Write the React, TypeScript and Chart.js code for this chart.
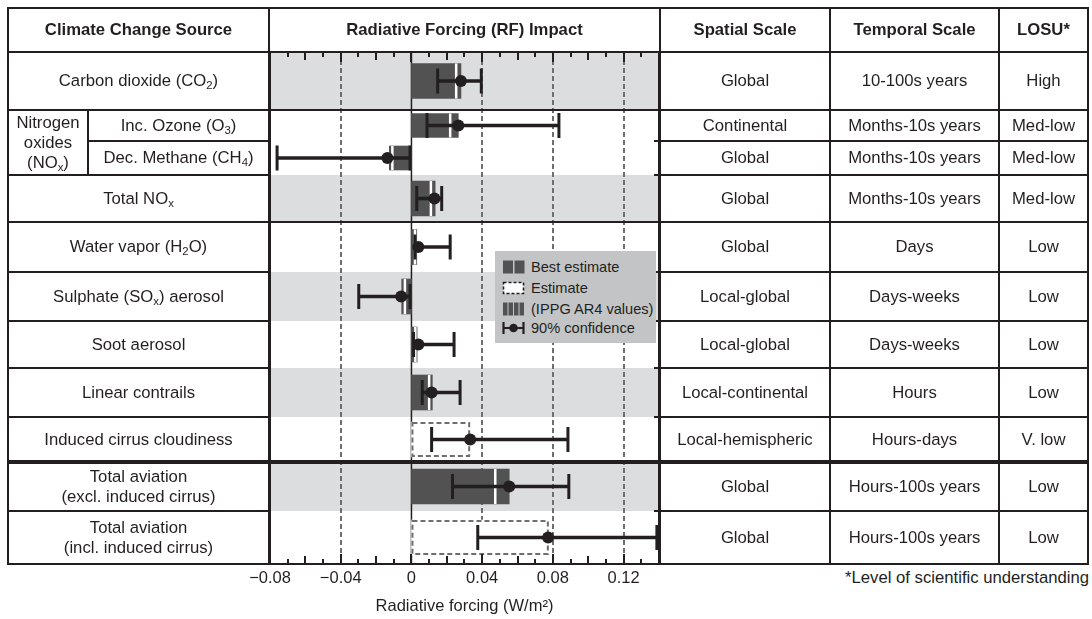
import React, { useEffect, useRef } from 'react';
import { Chart, registerables } from 'chart.js';

Chart.register(...registerables);

// ---------------- data ----------------
const columnHeaders = ['Climate Change Source', 'Radiative Forcing (RF) Impact', 'Spatial Scale', 'Temporal Scale', 'LOSU*'];
const sources = [
  'Carbon dioxide (CO{2})',
  'Inc. Ozone (O{3})',
  'Dec. Methane (CH{4})',
  'Total NO{x}',
  'Water vapor (H{2}O)',
  'Sulphate (SO{x}) aerosol',
  'Soot aerosol',
  'Linear contrails',
  'Induced cirrus cloudiness',
  'Total aviation\n(excl. induced cirrus)',
  'Total aviation\n(incl. induced cirrus)',
];
const groupLabel = 'Nitrogen\noxides\n(NO{x})';
const spatialScale = ['Global', 'Continental', 'Global', 'Global', 'Global', 'Local-global', 'Local-global', 'Local-continental', 'Local-hemispheric', 'Global', 'Global'];
const temporalScale = ['10-100s years', 'Months-10s years', 'Months-10s years', 'Months-10s years', 'Days', 'Days-weeks', 'Days-weeks', 'Hours', 'Hours-days', 'Hours-100s years', 'Hours-100s years'];
const losu = ['High', 'Med-low', 'Med-low', 'Med-low', 'Low', 'Low', 'Low', 'Low', 'V. low', 'Low', 'Low'];

// W/m2
const bestEstimate: (number | null)[] = [0.028, 0.0265, -0.0125, 0.0134, 0.003, -0.0055, 0.0032, 0.0118, null, 0.0553, null];
const estimate: (number | null)[] = [null, null, null, null, null, null, null, null, 0.0332, null, 0.0777];
const ar4Values: (number | null)[] = [0.0253, 0.0219, -0.0108, 0.011, 0.002, -0.0037, 0.0022, 0.01, null, 0.0474, null];
const centralValues = [0.028, 0.0265, -0.0136, 0.013, 0.0039, -0.0058, 0.0039, 0.0114, 0.0332, 0.0553, 0.0773];
const ciLow = [0.0148, 0.0088, -0.076, 0.003, 0.002, -0.0298, 0.0012, 0.0061, 0.0114, 0.0232, 0.0375];
const ciHigh = [0.0395, 0.0834, -0.0008, 0.0171, 0.0219, -0.0008, 0.0241, 0.0275, 0.0885, 0.089, 0.1388];
const xTicks = [-0.08, -0.04, 0, 0.04, 0.08, 0.12];
const legendLabels = ['Best estimate', 'Estimate', '(IPPG AR4 values)', '90% confidence'];
const axisTitle = 'Radiative forcing (W/m²)';
const footnote = '*Level of scientific understanding';

// ---------------- layout & style ----------------
const X_MIN = -0.08;
const X_MAX = 0.14;
const rowHeights = [58, 31, 34, 47, 50, 49, 47, 49, 45, 49, 53];
const shadedRows = [true, false, false, true, false, true, false, true, false, true, false];
const nestedRows = [false, true, true, false, false, false, false, false, false, false, false];
const fullRuleAfter = [0, 3, 8];
const thickRuleAfter = 8;
const colEdges = [8, 269, 660, 830, 999, 1088];
const GROUP_SPLIT = 88;
const TABLE_TOP = 8;
const BODY_TOP = 52;
const rowEdges = rowHeights.reduce<number[]>((acc, h) => { acc.push(acc[acc.length - 1] + h); return acc; }, [0]);
const BODY_H = rowEdges[rowEdges.length - 1];

const CANVAS_LEFT = 230;
const CANVAS_TOP = 40;
const CANVAS_W = 460;
const CANVAS_H = 579;

const INK = '#231f20';
const BAR = '#525252';
const BAND = '#dcdddf';
const GRID = '#6e6e6e';
const LEGEND_BG = '#c3c4c6';
const FONT = '"Liberation Sans", Arial, Helvetica, sans-serif';
const MAIN_BAR = 35;
const NESTED_BAR = 24;

function rich(text: string) {
  return text.split(/(\{[^}]*\})/).map((part, i) =>
    part.startsWith('{') ? (
      <sub key={i} style={{ fontSize: '0.68em', verticalAlign: 'baseline', position: 'relative', top: '0.3em', lineHeight: 0 }}>
        {part.slice(1, -1)}
      </sub>
    ) : (
      <React.Fragment key={i}>{part}</React.Fragment>
    )
  );
}

const decorPlugin = {
  id: 'rfDecor',
  beforeDatasetsDraw(chart: any) {
    const { ctx, chartArea: a } = chart;
    const xs = chart.scales.x;
    const ys = chart.scales.y;
    ctx.save();
    ctx.fillStyle = BAND;
    rowHeights.forEach((_, i) => {
      if (!shadedRows[i]) return;
      const t = ys.getPixelForValue(rowEdges[i]);
      const b = ys.getPixelForValue(rowEdges[i + 1]);
      ctx.fillRect(a.left, t, a.right - a.left, b - t);
    });
    ctx.strokeStyle = GRID;
    ctx.lineWidth = 2;
    ctx.setLineDash([5, 3]);
    xTicks.forEach((v) => {
      if (v === 0 || v === X_MIN) return;
      const px = Math.round(xs.getPixelForValue(v));
      ctx.beginPath();
      ctx.moveTo(px, a.top);
      ctx.lineTo(px, a.bottom);
      ctx.stroke();
    });
    ctx.setLineDash([]);
    ctx.strokeStyle = INK;
    ctx.lineWidth = 1.5;
    const z = xs.getPixelForValue(0);
    ctx.beginPath();
    ctx.moveTo(z, a.top);
    ctx.lineTo(z, a.bottom);
    ctx.stroke();
    ctx.restore();
  },
  afterDatasetDraw(chart: any, args: any) {
    const ds = chart.data.datasets[args.index];
    if (ds.label !== 'Estimate') return;
    const { ctx } = chart;
    ctx.save();
    ctx.strokeStyle = GRID;
    ctx.lineWidth = 2;
    ctx.setLineDash([5, 3]);
    args.meta.data.forEach((el: any) => {
      const p = el.getProps(['x', 'y', 'base', 'height'], true);
      const l = Math.min(p.x, p.base);
      const r = Math.max(p.x, p.base);
      const t = p.y - p.height / 2;
      ctx.strokeRect(l + 1, t + 1, r - l - 2, p.height - 2);
    });
    ctx.restore();
  },
  afterDatasetsDraw(chart: any) {
    const { ctx, chartArea: a } = chart;
    const xs = chart.scales.x;
    ctx.save();
    ctx.strokeStyle = INK;
    ctx.lineWidth = 2;
    ctx.strokeRect(a.left, a.top, a.right - a.left, a.bottom - a.top);
    for (let k = Math.round(X_MIN * 100); k <= Math.round(X_MAX * 100); k++) {
      const px = Math.round(xs.getPixelForValue(k / 100));
      const len = k % 4 === 0 ? 10 : k % 2 === 0 ? 8 : 5;
      ctx.beginPath();
      ctx.moveTo(px, a.top);
      ctx.lineTo(px, a.top + len);
      ctx.moveTo(px, a.bottom);
      ctx.lineTo(px, a.bottom - len);
      ctx.stroke();
    }
    ctx.restore();
  },
};

function buildChart(canvas: HTMLCanvasElement) {
  const centers = rowHeights.map((h, i) => rowEdges[i] + h / 2);
  const rows = sources.map((_, i) => i);
  const pt = (x: number, i: number) => ({ x, y: centers[i] });
  const span = (a: number, b: number, i: number) => ({ x: [a, b], y: centers[i] });
  const bestRows = rows.filter((i) => bestEstimate[i] !== null);
  const estRows = rows.filter((i) => estimate[i] !== null);
  const ar4Rows = rows.filter((i) => ar4Values[i] !== null);

  return new Chart(canvas, {
    type: 'bar',
    data: {
      datasets: [
        {
          type: 'bar', label: 'Estimate', stack: 'rows', order: 6,
          data: estRows.map((i) => span(0, estimate[i] as number, i)),
          backgroundColor: '#ffffff', borderWidth: 0, barThickness: MAIN_BAR,
        },
        {
          type: 'bar', label: 'Best estimate', stack: 'rows', order: 5,
          data: bestRows.filter((i) => !nestedRows[i]).map((i) => span(0, bestEstimate[i] as number, i)),
          backgroundColor: BAR, borderWidth: 0, barThickness: MAIN_BAR,
        },
        {
          type: 'bar', label: 'Best estimate (NOx)', stack: 'rows', order: 5,
          data: bestRows.filter((i) => nestedRows[i]).map((i) => span(0, bestEstimate[i] as number, i)),
          backgroundColor: BAR, borderWidth: 0, barThickness: NESTED_BAR,
        },
        {
          type: 'scatter', label: 'IPCC AR4 values', order: 4,
          data: ar4Rows.map((i) => pt(ar4Values[i] as number, i)),
          pointStyle: 'line', pointRotation: 90,
          pointRadius: ar4Rows.map((i) => (nestedRows[i] ? NESTED_BAR : MAIN_BAR) / 2),
          pointBorderColor: '#ffffff', pointBorderWidth: 2.5,
        },
        {
          type: 'bar', label: '90% confidence', stack: 'rows', order: 3,
          data: rows.map((i) => span(ciLow[i], ciHigh[i], i)),
          backgroundColor: INK, borderWidth: 0, barThickness: 3,
        },
        {
          type: 'scatter', label: 'caps', order: 2,
          data: rows.flatMap((i) => [pt(ciLow[i], i), pt(ciHigh[i], i)]),
          pointStyle: 'line', pointRotation: 90, pointRadius: 12.5,
          pointBorderColor: INK, pointBorderWidth: 3,
        },
        {
          type: 'scatter', label: 'central', order: 1,
          data: rows.map((i) => pt(centralValues[i], i)),
          pointStyle: 'circle', pointRadius: 6,
          pointBackgroundColor: INK, pointBorderWidth: 0,
        },
      ] as any,
    },
    options: {
      responsive: false,
      animation: false,
      events: [],
      indexAxis: 'y',
      layout: { autoPadding: false, padding: { left: 40, right: 31, top: 12, bottom: 0 } },
      plugins: { legend: { display: false }, tooltip: { enabled: false } },
      scales: {
        x: {
          type: 'linear', position: 'bottom', min: X_MIN, max: X_MAX, stacked: false, offset: false,
          afterBuildTicks: (s: any) => { s.ticks = xTicks.map((v) => ({ value: v })); },
          afterFit: (s: any) => { s.height = 55; },
          grid: { display: false, drawTicks: false, tickLength: 0, offset: false },
          border: { display: false },
          ticks: {
            autoSkip: false, maxRotation: 0, padding: 5, color: INK,
            font: { family: FONT, size: 16.5 },
            callback: (v: any) => {
              const n = Number(v);
              if (Math.abs(n) < 1e-9) return '0';
              return (n < 0 ? '\u2212' : '') + Math.abs(n).toFixed(2);
            },
          },
          title: {
            display: true, text: axisTitle, color: INK,
            font: { family: FONT, size: 16.5 }, padding: { top: 0, bottom: 3 },
          },
        },
        y: {
          type: 'linear', min: 0, max: BODY_H, reverse: true, display: false,
          offset: false, grid: { offset: false },
        },
      },
    } as any,
    plugins: [decorPlugin],
  });
}

function HLine({ x1, x2, y, w = 2 }: { x1: number; x2: number; y: number; w?: number }) {
  return <div style={{ position: 'absolute', left: x1 - 1, top: y - w / 2, width: x2 - x1 + 2, height: w, background: INK, zIndex: 2 }} />;
}
function VLine({ x, y1, y2, w = 2 }: { x: number; y1: number; y2: number; w?: number }) {
  return <div style={{ position: 'absolute', left: x - w / 2, top: y1 - 1, width: w, height: y2 - y1 + 2, background: INK, zIndex: 2 }} />;
}
function Cell({ x1, x2, y1, y2, bold, children }: any) {
  return (
    <div style={{
      position: 'absolute', left: x1, top: y1, width: x2 - x1, height: y2 - y1,
      display: 'flex', alignItems: 'center', justifyContent: 'center', textAlign: 'center',
      whiteSpace: 'pre-line', fontSize: 16.7, lineHeight: '20px', fontWeight: bold ? 700 : 400, zIndex: 3,
    }}>
      <div>{children}</div>
    </div>
  );
}

function LegendIcon({ kind }: { kind: number }) {
  if (kind === 0) {
    return (
      <svg width="24" height="16">
        <rect x="1" y="1.5" width="10" height="13" fill={BAR} />
        <rect x="12.5" y="1.5" width="10" height="13" fill={BAR} />
      </svg>
    );
  }
  if (kind === 1) {
    return (
      <svg width="24" height="16">
        <rect x="1.5" y="2.5" width="20" height="11" fill="#fff" stroke={INK} strokeWidth="1.6" strokeDasharray="3 2" />
      </svg>
    );
  }
  if (kind === 2) {
    return (
      <svg width="24" height="16">
        {[0, 1, 2, 3].map((k) => <rect key={k} x={1 + k * 5.5} y="1.5" width="4.5" height="13" fill={BAR} />)}
      </svg>
    );
  }
  return (
    <svg width="24" height="16">
      <line x1="1.5" y1="2" x2="1.5" y2="14" stroke={INK} strokeWidth="2.2" />
      <line x1="21.5" y1="2" x2="21.5" y2="14" stroke={INK} strokeWidth="2.2" />
      <line x1="1.5" y1="8" x2="21.5" y2="8" stroke={INK} strokeWidth="2" />
      <circle cx="11.5" cy="8" r="4.3" fill={INK} />
    </svg>
  );
}

export default function App() {
  const ref = useRef<HTMLCanvasElement>(null);
  useEffect(() => {
    const chart = buildChart(ref.current as HTMLCanvasElement);
    return () => chart.destroy();
  }, []);

  const y = (i: number) => BODY_TOP + rowEdges[i];
  const bottom = BODY_TOP + BODY_H;
  const lines: React.ReactNode[] = [];
  lines.push(<HLine key="top" x1={colEdges[0]} x2={colEdges[5]} y={TABLE_TOP} />);
  lines.push(<HLine key="head" x1={colEdges[0]} x2={colEdges[5]} y={BODY_TOP} />);
  lines.push(<HLine key="bot" x1={colEdges[0]} x2={colEdges[5]} y={bottom} />);
  for (let i = 1; i < rowHeights.length; i++) {
    const yy = y(i);
    if (fullRuleAfter.includes(i - 1)) {
      lines.push(<HLine key={'r' + i} x1={colEdges[0]} x2={colEdges[5]} y={yy} w={i - 1 === thickRuleAfter ? 3.5 : 2} />);
    } else {
      const left = nestedRows[i] && nestedRows[i - 1] ? GROUP_SPLIT : colEdges[0];
      lines.push(<HLine key={'l' + i} x1={left} x2={colEdges[1]} y={yy} />);
      lines.push(<HLine key={'rr' + i} x1={colEdges[2] - 5} x2={colEdges[5]} y={yy} />);
    }
  }
  colEdges.forEach((cx, k) => lines.push(<VLine key={'c' + k} x={cx} y1={TABLE_TOP} y2={bottom} />));
  const firstNested = nestedRows.indexOf(true);
  const lastNested = nestedRows.lastIndexOf(true);
  lines.push(<VLine key="split" x={GROUP_SPLIT} y1={y(firstNested)} y2={y(lastNested + 1)} />);

  const cells: React.ReactNode[] = [];
  columnHeaders.forEach((h, k) =>
    cells.push(<Cell key={'h' + k} x1={colEdges[k]} x2={colEdges[k + 1]} y1={TABLE_TOP} y2={BODY_TOP} bold>{h}</Cell>)
  );
  cells.push(
    <Cell key="group" x1={colEdges[0]} x2={GROUP_SPLIT} y1={y(firstNested)} y2={y(lastNested + 1)}>{rich(groupLabel)}</Cell>
  );
  sources.forEach((s, i) => {
    cells.push(
      <Cell key={'s' + i} x1={nestedRows[i] ? GROUP_SPLIT : colEdges[0]} x2={colEdges[1]} y1={y(i)} y2={y(i + 1)}>{rich(s)}</Cell>
    );
    cells.push(<Cell key={'sp' + i} x1={colEdges[2]} x2={colEdges[3]} y1={y(i)} y2={y(i + 1)}>{spatialScale[i]}</Cell>);
    cells.push(<Cell key={'tp' + i} x1={colEdges[3]} x2={colEdges[4]} y1={y(i)} y2={y(i + 1)}>{temporalScale[i]}</Cell>);
    cells.push(<Cell key={'lo' + i} x1={colEdges[4]} x2={colEdges[5]} y1={y(i)} y2={y(i + 1)}>{losu[i]}</Cell>);
  });

  return (
    <div style={{ position: 'fixed', left: 0, top: 0, width: 1092, height: 619, background: '#fff', overflow: 'hidden', fontFamily: FONT, color: INK }}>
      <canvas
        ref={ref}
        width={CANVAS_W}
        height={CANVAS_H}
        style={{ position: 'absolute', left: CANVAS_LEFT, top: CANVAS_TOP, width: CANVAS_W, height: CANVAS_H, zIndex: 1, display: 'block' }}
      />
      {lines}
      {cells}
      <div style={{ position: 'absolute', left: 495, top: 251, width: 161, height: 92, background: LEGEND_BG, zIndex: 4 }}>
        {legendLabels.map((l, k) => (
          <div key={k} style={{ position: 'absolute', left: 7, top: [16, 37, 58, 77][k] - 9, height: 18, display: 'flex', alignItems: 'center', fontSize: 14.6, whiteSpace: 'nowrap' }}>
            <LegendIcon kind={k} />
            <span style={{ marginLeft: 5 }}>{l}</span>
          </div>
        ))}
      </div>
      <div style={{ position: 'absolute', right: 1092 - colEdges[5] - 1, top: 568, fontSize: 16.7, lineHeight: '20px', whiteSpace: 'nowrap' }}>
        {footnote}
      </div>
    </div>
  );
}
